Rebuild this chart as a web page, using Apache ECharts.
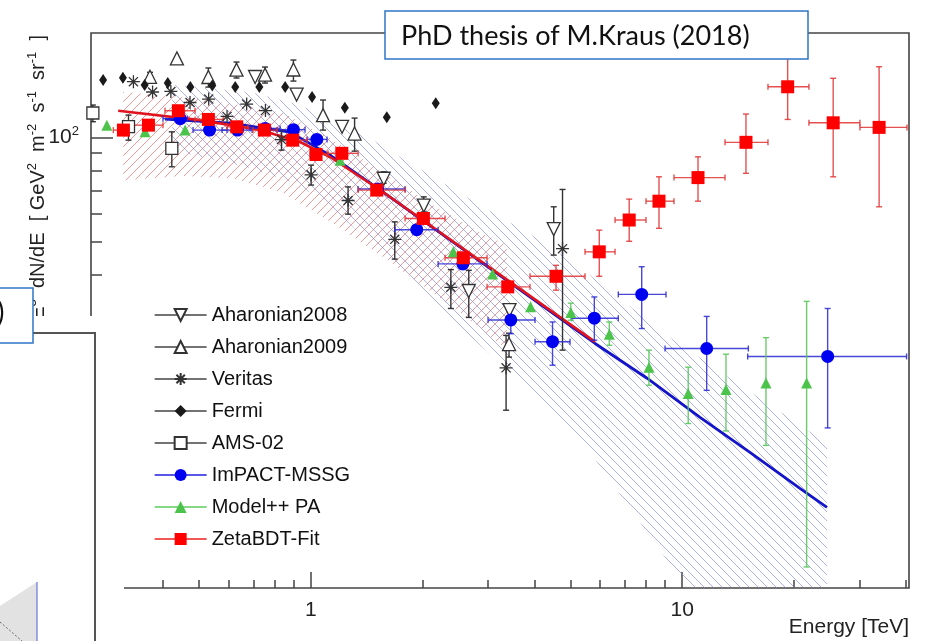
<!DOCTYPE html>
<html>
<head>
<meta charset="utf-8">
<title>Electron spectrum</title>
<script src="https://cdn.jsdelivr.net/npm/echarts@6/dist/echarts.min.js"></script>
<style>
  html, body { margin: 0; padding: 0; background: #fff; }
  #chart { width: 931px; height: 641px; }
</style>
</head>
<body>
<div id="chart"></div>
<script>
// ---------- axis ticks ----------
var energyTicksMajor = [1, 10];
var energyTicksMinor = [0.3, 0.4, 0.5, 0.6, 0.7, 0.8, 0.9, 2, 3, 4, 5, 6, 7, 8, 9, 20, 30, 40];
var fluxTicksMajor = [100];
var fluxTicksMinor = [6, 7, 8, 9, 20, 30, 40, 50, 60, 70, 80, 90];

// ---------- black experiments: [E, flux, fluxLow, fluxHigh] ----------
var aharonian2008 = [
  [0.708, 149.3, 149.3, 149.3], [0.916, 132.8, 132.8, 132.8], [1.214, 107.2, 107.2, 107.2],
  [1.572, 75.9, 73.7, 79.5], [2.015, 63.5, 60.9, 67.3], [2.663, 36.0, 30.2, 41.3],
  [3.428, 31.7, 30.4, 32.8], [4.509, 54.3, 45.7, 63.0]
];
var aharonian2009 = [
  [0.369, 149.5, 145, 154], [0.436, 169.0, 169.0, 169.0], [0.530, 149.3, 139.6, 158.5],
  [0.631, 156.7, 148.3, 164.9], [0.753, 151.7, 143.4, 159.5], [0.898, 156.9, 145.3, 167.1],
  [1.079, 115.9, 104.9, 128.1], [1.312, 102.5, 91.2, 113.6], [3.418, 25.3, 23.2, 27.2]
];
var veritas = [
  [0.333, 144.7, 144.7, 144.7], [0.375, 135.1, 135.1, 135.1], [0.420, 135.6, 135.6, 135.6],
  [0.473, 126.0, 126.0, 126.0], [0.531, 128.9, 128.9, 128.9], [0.595, 114.9, 114.9, 114.9],
  [0.672, 124.7, 124.7, 124.7], [0.755, 119.4, 119.4, 119.4], [0.834, 98.5, 91.8, 104.9],
  [1.002, 77.9, 72.8, 83.1], [1.26, 65.7, 60.0, 71.9], [1.683, 50.75, 44.5, 57.0],
  [2.383, 36.9, 32.05, 41.5], [3.356, 21.6, 16.3, 26.8], [4.762, 47.7, 24.3, 70.7]
];
var fermi = [
  [0.276, 146.3, 146.3, 146.3], [0.312, 148.5, 148.5, 148.5], [0.357, 141.5, 141.5, 141.5],
  [0.412, 143.4, 143.4, 143.4], [0.474, 139.6, 139.6, 139.6], [0.543, 141.1, 141.1, 141.1],
  [0.626, 139.6, 139.6, 139.6], [0.727, 139.6, 139.6, 139.6], [0.853, 139.6, 139.6, 139.6],
  [1.008, 130.6, 130.6, 130.6], [1.235, 121.7, 121.7, 121.7], [1.602, 114.2, 114.2, 114.2],
  [2.17, 125.3, 125.3, 125.3]
];
var ams02 = [
  [0.259, 117.5, 110.9, 123.9], [0.323, 107.4, 98.1, 115.9], [0.4225, 92.9, 82.2, 103.7]
];
var modelPA = [
  [0.2825, 108.4, 108.4, 108.4], [0.358, 103.7, 103.7, 103.7], [0.4588, 104.9, 104.9, 104.9],
  [1.199, 85.9, 85.9, 85.9], [2.42, 46.7, 46.7, 46.7], [3.086, 40.3, 40.3, 40.3],
  [3.906, 32.4, 32.4, 32.4], [5.013, 31.2, 29.65, 33.2], [6.364, 27.0, 25.1, 29.3],
  [8.139, 21.7, 19.24, 24.3], [10.38, 18.2, 14.92, 21.7], [13.12, 18.7, 14.2, 23.65],
  [16.81, 19.54, 12.9, 26.4], [21.63, 19.54, 5.75, 33.6]
];

// ---------- analyses with energy bins: [E, flux, Elow, Ehigh, fluxLow, fluxHigh] ----------
var impactMSSG = [
  [0.445, 113.2, 0.400, 0.465, 113.2, 113.2], [0.534, 104.9, 0.482, 0.595, 104.9, 104.9],
  [0.635, 104.9, 0.577, 0.695, 104.9, 104.9], [0.753, 106.1, 0.686, 0.827, 106.1, 106.1],
  [0.898, 105.2, 0.812, 0.965, 105.2, 105.2], [1.038, 98.6, 0.977, 1.106, 98.6, 98.6],
  [1.513, 70.9, 1.341, 1.794, 70.9, 70.9], [1.929, 54.1, 1.686, 2.202, 54.1, 54.1],
  [2.567, 43.1, 2.202, 2.983, 43.1, 43.1], [3.456, 29.7, 3.001, 4.016, 27.1, 32.4],
  [4.476, 25.7, 4.016, 4.989, 21.98, 29.3], [5.80, 30.05, 5.042, 6.73, 25.96, 34.6],
  [7.78, 35.2, 6.73, 9.045, 28.05, 42.3], [11.64, 24.56, 8.99, 15.07, 18.6, 30.4],
  [24.64, 23.3, 15.01, 40.2, 14.49, 32.05]
];
var zetaBDT = [
  [0.313, 104.9, 0.294, 0.333, 104.9, 104.9], [0.3655, 108.4, 0.332, 0.400, 108.4, 108.4],
  [0.440, 119.3, 0.405, 0.488, 119.3, 119.3], [0.530, 112.6, 0.488, 0.581, 112.6, 112.6],
  [0.632, 107.2, 0.595, 0.678, 107.2, 107.2], [0.750, 104.9, 0.699, 0.812, 104.9, 104.9],
  [0.894, 98.1, 0.827, 0.977, 98.1, 98.1], [1.033, 89.2, 0.996, 1.106, 89.2, 89.2],
  [1.212, 89.9, 1.113, 1.341, 89.9, 89.9], [1.505, 70.4, 1.341, 1.794, 70.4, 70.4],
  [2.010, 58.3, 1.794, 2.299, 58.3, 58.3], [2.575, 44.9, 2.299, 2.983, 44.9, 44.9],
  [3.391, 37.0, 2.983, 3.893, 37.0, 37.0], [4.574, 39.7, 3.893, 5.475, 36.2, 42.7],
  [5.98, 46.7, 5.475, 6.595, 39.7, 53.95], [7.20, 57.7, 6.595, 7.99, 50.1, 66.3],
  [8.66, 65.4, 7.99, 9.504, 54.6, 76.9], [11.03, 76.5, 9.504, 13.04, 65.4, 87.8],
  [14.85, 96.7, 13.04, 17.02, 78.7, 116.7], [19.23, 139.9, 17.02, 21.94, 112.6, 181],
  [25.5, 110.1, 21.94, 30.1, 76.9, 148], [33.9, 106.8, 30.1, 40.3, 63.0, 159.8]
];

// ---------- fitted spectra ----------
var zetaFit = [[0.303, 119.3], [0.5035, 112.1], [0.7304, 104.9], [0.9358, 96.9], [1.127, 87.7], [1.565, 69.5], [5.826, 25.67]];
var impactFit = [[0.405, 112.9], [0.6065, 109.9], [0.8796, 103.5], [1.127, 88.8], [1.565, 69.5], [5.826, 25.4],
  [8.04, 20.16], [11.17, 15.55], [15.22, 12.32], [20.75, 9.70], [24.54, 8.55]];

// ---------- uncertainty bands ----------
var zetaBandE = [0.3125, 0.4531, 0.6177, 0.842, 1.148, 1.565, 2.134, 2.856, 3.376];
var zetaBandHi = [135.1, 130.6, 124.7, 117.5, 98.1, 79.3, 63.7, 53.2, 48.8];
var zetaBandLo = [75.2, 77.3, 76.2, 69.0, 56.5, 45.1, 35.5, 28.3, 24.3];
var impactBandE = [0.4233, 0.6864, 0.9358, 1.199, 1.472, 1.739, 2.856, 4.142, 5.647, 9.101, 13.70, 24.54];
var impactBandHi = [141.5, 135.1, 123.9, 108.4, 98.1, 87.7, 63.7, 50.5, 40.0, 26.8, 19.9, 13.08];
var impactBandLo = [91.8, 81.5, 72.8, 59.6, 48.8, 41.3, 25.1, 17.4, 12.32, 6.01, 3.24, 1.345];

var FONT = 'Liberation Sans';
var E_MIN = 0.256, E_MAX = 40.8, F_MIN = 5, F_MAX = 200;

// hatch pattern, dir 1 = "/", -1 = "\"
function hatch(color, dir) {
  var s = 9;
  var c = document.createElement('canvas');
  c.width = s; c.height = s;
  var g = c.getContext('2d');
  g.strokeStyle = color;
  g.lineWidth = 0.9;
  g.beginPath();
  if (dir > 0) {
    g.moveTo(0, s); g.lineTo(s, 0);
    g.moveTo(-1, 1); g.lineTo(1, -1);
    g.moveTo(s - 1, s + 1); g.lineTo(s + 1, s - 1);
  } else {
    g.moveTo(0, 0); g.lineTo(s, s);
    g.moveTo(-1, s - 1); g.lineTo(1, s + 1);
    g.moveTo(s - 1, -1); g.lineTo(s + 1, 1);
  }
  g.stroke();
  return { image: c, repeat: 'repeat' };
}

function bandSeries(name, es, hi, lo, fill, z) {
  return {
    name: name, type: 'custom', clip: true, silent: true, z: z,
    data: es.map(function (e, i) { return [e, hi[i], lo[i]]; }),
    renderItem: function (params, api) {
      if (params.dataIndex !== 0) return null;
      var pts = [];
      for (var i = 0; i < es.length; i++) pts.push(api.coord([es[i], hi[i]]));
      for (var j = es.length - 1; j >= 0; j--) pts.push(api.coord([es[j], lo[j]]));
      return { type: 'polygon', shape: { points: pts }, style: { fill: fill, stroke: null } };
    }
  };
}

// error bars with small end caps
function errSeries(name, rows, color) {
  var items = rows.map(function (r) {
    return r.length === 4 ? [r[0], r[1], r[0], r[0], r[2], r[3]] : r.slice();
  });
  return {
    name: name, type: 'custom', clip: true, silent: true, z: 4,
    data: items,
    renderItem: function (params, api) {
      var x = api.value(0), y = api.value(1);
      var xl = api.coord([api.value(2), y]), xh = api.coord([api.value(3), y]);
      var yl = api.coord([x, api.value(4)]), yh = api.coord([x, api.value(5)]);
      var st = { stroke: color, lineWidth: 1.4 };
      var kids = [];
      var c = 3;
      if (xh[0] - xl[0] > 1) {
        kids.push({ type: 'line', shape: { x1: xl[0], y1: xl[1], x2: xh[0], y2: xh[1] }, style: st });
        kids.push({ type: 'line', shape: { x1: xl[0], y1: xl[1] - c, x2: xl[0], y2: xl[1] + c }, style: st });
        kids.push({ type: 'line', shape: { x1: xh[0], y1: xh[1] - c, x2: xh[0], y2: xh[1] + c }, style: st });
      }
      if (yl[1] - yh[1] > 1) {
        kids.push({ type: 'line', shape: { x1: yl[0], y1: yl[1], x2: yh[0], y2: yh[1] }, style: st });
        kids.push({ type: 'line', shape: { x1: yl[0] - c, y1: yl[1], x2: yl[0] + c, y2: yl[1] }, style: st });
        kids.push({ type: 'line', shape: { x1: yh[0] - c, y1: yh[1], x2: yh[0] + c, y2: yh[1] }, style: st });
      }
      return { type: 'group', children: kids };
    }
  };
}

function markerSeries(name, rows, sym, size, rotate, fill, stroke, lineColor) {
  return {
    name: name, type: 'line', z: 6, silent: true,
    data: rows.map(function (r) { return [r[0], r[1]]; }),
    symbol: sym, symbolSize: size, symbolRotate: rotate, symbolKeepAspect: true,
    itemStyle: { color: fill, borderColor: stroke, borderWidth: stroke ? 1.3 : 0, opacity: 1 },
    lineStyle: { color: lineColor, width: 1.3, opacity: 0 }
  };
}

var asterisk = 'path://M10,0L10,20M0,10L20,10M3,3L17,17M3,17L17,3';
var BLACK = '#333';

var series = [
  bandSeries('zetaBand', zetaBandE, zetaBandHi, zetaBandLo, hatch('rgba(246,120,120,0.85)', 1), 1),
  bandSeries('impactBand', impactBandE, impactBandHi, impactBandLo, hatch('rgba(120,130,225,0.7)', -1), 1),
  {
    name: 'impactFit', type: 'line', z: 3, silent: true, symbol: 'none',
    data: impactFit, lineStyle: { color: '#1414c8', width: 2.8 }
  },
  {
    name: 'zetaFit', type: 'line', z: 3, silent: true, symbol: 'none',
    data: zetaFit, lineStyle: { color: '#e0141e', width: 2.6 }
  },
  errSeries('e1', aharonian2008, BLACK),
  errSeries('e2', aharonian2009, BLACK),
  errSeries('e3', veritas, BLACK),
  errSeries('e5', ams02, BLACK),
  errSeries('e6', impactMSSG, 'rgba(40,40,210,0.85)'),
  errSeries('e7', modelPA, 'rgba(90,200,90,0.9)'),
  errSeries('e8', zetaBDT, 'rgba(225,50,50,0.85)'),
  markerSeries('Aharonian2008', aharonian2008, 'triangle', 13, 180, '#fff', BLACK, '#444'),
  markerSeries('Aharonian2009', aharonian2009, 'triangle', 13, 0, '#fff', BLACK, '#444'),
  markerSeries('Veritas', veritas, asterisk, 13, 0, 'rgba(0,0,0,0)', BLACK, '#444'),
  markerSeries('Fermi', fermi, 'diamond', [8, 12], 0, '#1a1a1a', null, '#444'),
  markerSeries('AMS-02', ams02, 'rect', 12, 0, '#fff', BLACK, '#444'),
  markerSeries('ImPACT-MSSG', impactMSSG, 'circle', 13, 0, '#0000f0', null, '#2020e0'),
  markerSeries('Model++ PA', modelPA, 'triangle', 11, 0, '#4cc44c', null, '#5ccc5c'),
  markerSeries('ZetaBDT-Fit', zetaBDT, 'rect', 13, 0, '#ff0000', null, '#ee2020')
];

function logAxis(min, max, ticks, len, extra) {
  var ax = {
    type: 'log', logBase: 10, min: min, max: max,
    axisLine: { show: false },
    splitLine: { show: false },
    axisTick: { show: true, inside: true, length: len, customValues: ticks, lineStyle: { color: '#444', width: 1.5 } },
    axisLabel: { show: false }
  };
  for (var k in extra) ax[k] = extra[k];
  return ax;
}

var chart = echarts.init(document.getElementById('chart'), null, { renderer: 'canvas' });

chart.setOption({
  animation: false,
  backgroundColor: '#fff',
  grid: { left: 91, top: 33, right: 22, bottom: 53, show: true, borderColor: '#444', borderWidth: 1.6, backgroundColor: 'rgba(0,0,0,0)' },
  xAxis: [
    logAxis(E_MIN, E_MAX, energyTicksMajor, 16, {
      position: 'bottom',
      axisLabel: {
        show: true, customValues: energyTicksMajor, margin: 12,
        fontFamily: FONT, fontSize: 21, color: '#222',
        formatter: function (v) { return String(Math.round(v)); }
      }
    }),
    logAxis(E_MIN, E_MAX, energyTicksMinor, 8, { position: 'bottom' })
  ],
  yAxis: [
    logAxis(F_MIN, F_MAX, fluxTicksMajor, 22, {
      position: 'left',
      axisLabel: {
        show: true, customValues: fluxTicksMajor, margin: 12,
        fontFamily: FONT, fontSize: 21, color: '#222',
        formatter: function () { return '{b|10}{s|2}'; },
        rich: {
          b: { fontFamily: FONT, fontSize: 21, color: '#222', lineHeight: 24 },
          s: { fontFamily: FONT, fontSize: 13, color: '#222', verticalAlign: 'top', lineHeight: 14 }
        }
      }
    }),
    logAxis(F_MIN, F_MAX, fluxTicksMinor, 11, { position: 'left' })
  ],
  legend: {
    orient: 'vertical', left: 149, top: 300,
    itemWidth: 52, itemHeight: 15, itemGap: 12,
    data: ['Aharonian2008', 'Aharonian2009', 'Veritas', 'Fermi', 'AMS-02', 'ImPACT-MSSG', 'Model++ PA', 'ZetaBDT-Fit'],
    textStyle: { fontFamily: FONT, fontSize: 20, color: '#111', lineHeight: 20 },
    lineStyle: { width: 1.3, opacity: 1 },
    selectedMode: false
  },
  series: series,
  graphic: [
    {
      type: 'text', x: 38, y: 35, rotation: Math.PI / 2, z: 50,
      style: {
        text: '{m|E}{s|3}{m|  dN/dE  [ GeV}{s|2}{m|  m}{s|-2}{m|  s}{s|-1}{m|  sr}{s|-1}{m|  ]}',
        align: 'right', verticalAlign: 'middle',
        rich: {
          m: { fontFamily: FONT, fontSize: 20, fill: '#222', lineHeight: 24 },
          s: { fontFamily: FONT, fontSize: 13, fill: '#222', verticalAlign: 'top', lineHeight: 14 }
        }
      }
    },
    {
      type: 'text', x: 909, y: 627, z: 50,
      style: { text: 'Energy [TeV]', fontFamily: FONT, fontSize: 21, fill: '#222', align: 'right', verticalAlign: 'middle' }
    },
    // pieces of the slide lying over the figure
    { type: 'rect', z: 60, shape: { x: 0, y: 316, width: 124, height: 330 }, style: { fill: '#fff' } },
    { type: 'polyline', z: 61, shape: { points: [[33, 333], [95, 333], [95, 645]] }, style: { stroke: '#555', lineWidth: 2, fill: null } },
    { type: 'polygon', z: 61, shape: { points: [[0, 606], [37, 582], [37, 641], [0, 641]] }, style: { fill: '#e2e2e2' } },
    { type: 'line', z: 62, shape: { x1: 37, y1: 582, x2: 37, y2: 641 }, style: { stroke: '#4a5fd0', lineWidth: 1 } },
    { type: 'line', z: 62, shape: { x1: 0, y1: 622, x2: 22, y2: 641 }, style: { stroke: '#666', lineWidth: 1, lineDash: [2, 2] } },
    { type: 'rect', z: 63, shape: { x: -4, y: 288, width: 37, height: 55 }, style: { fill: '#fff', stroke: '#2e75c6', lineWidth: 1.5 } },
    { type: 'text', z: 64, x: -3, y: 313, style: { text: ')', fontFamily: 'Lato', fontSize: 28, fill: '#111', verticalAlign: 'middle' } },
    { type: 'rect', z: 63, shape: { x: 385, y: 11, width: 423, height: 48 }, style: { fill: '#fff', stroke: '#2e75c6', lineWidth: 1.5 } },
    { type: 'text', z: 64, x: 401, y: 36, style: { text: 'PhD thesis of M.Kraus (2018)', fontFamily: 'Lato', fontSize: 27, fill: '#111', verticalAlign: 'middle' } }
  ]
});
</script>
</body>
</html>
